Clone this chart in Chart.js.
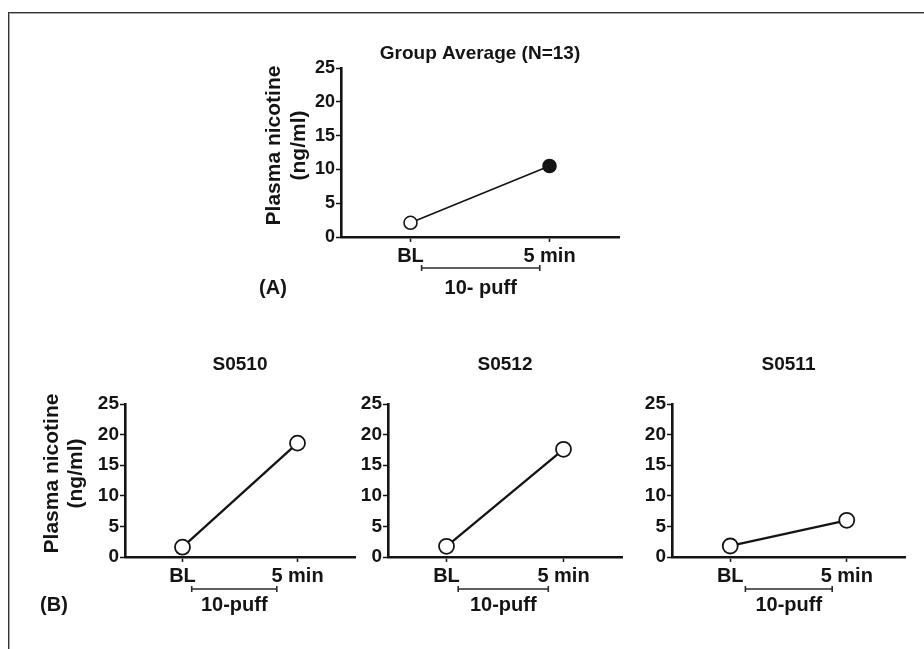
<!DOCTYPE html>
<html><head><meta charset="utf-8">
<script src="https://cdn.jsdelivr.net/npm/chart.js@4.4.1/dist/chart.umd.min.js"></script>
<style>
html,body{margin:0;padding:0;background:#fff;}
#wrap{position:relative;width:924px;height:649px;overflow:hidden;background:#fff;}
#wrap canvas{position:absolute;left:0;top:0;}
.b1{position:absolute;left:8px;top:12px;width:1000px;height:1000px;border-left:1px solid #333;border-top:1px solid #333;}
.b2{position:absolute;left:9px;top:13px;width:1000px;height:1000px;border-left:1px solid #a8a8a8;border-top:1px solid #a8a8a8;}
</style></head>
<body><div id="wrap"><div class="b1"></div><div class="b2"></div>
<canvas id="cA" width="924" height="649"></canvas>
<canvas id="cB1" width="924" height="649"></canvas>
<canvas id="cB2" width="924" height="649"></canvas>
<canvas id="cB3" width="924" height="649"></canvas>
</div>
<script>
// ---- data ----
const categories = ['BL', '5 min'];
const groupAverage = [2.1, 10.5];
const s0510 = [1.6, 18.6];
const s0512 = [1.75, 17.6];
const s0511 = [1.8, 6.0];
const yMin = 0, yMax = 25, yStep = 5;
const panelTitles = ['Group Average (N=13)', 'S0510', 'S0512', 'S0511'];
const yTitleLines = ['Plasma nicotine', '(ng/ml)'];
const bracketLabels = ['10- puff', '10-puff', '10-puff', '10-puff'];
const panelLetters = ['(A)', '(B)'];

const FONT = "'Liberation Sans', Arial, Helvetica, sans-serif";
const INK = '#141414';
const YW = 48, XH = 40, W = 924, H = 649;

const panels = [
  {id:'cA', values:groupAverage, title:panelTitles[0], area:{l:341,t:68,r:619,b:237}, titleDy:14.5,
   yTitle:yTitleLines, yTitleDx:[67,42], bracket:[0.08,0.93], bracketDy:31, bracketTextDy:20,
   bracketLabel:bracketLabels[0], letter:panelLetters[0], letterDx:68, letterDy:51,
   filled:[false,true], radius:6.5, pointBorder:1.6, lineW:1.6, yTickSize:18},
  {id:'cB1', values:s0510, title:panelTitles[1], area:{l:125,t:404,r:355,b:557}, titleDy:39.5,
   yTitle:yTitleLines, yTitleDx:[73,49], bracket:[0.08,0.82], bracketDy:32, bracketTextDy:16,
   bracketLabel:bracketLabels[1], letter:panelLetters[1], letterDx:71, letterDy:48,
   filled:[false,false], radius:7.5, pointBorder:1.8, lineW:2.3, yTickSize:19},
  {id:'cB2', values:s0512, title:panelTitles[2], area:{l:388,t:404,r:622,b:557}, titleDy:39.5,
   yTitle:null, bracket:[0.10,0.87], bracketDy:32, bracketTextDy:16,
   bracketLabel:bracketLabels[2], letter:null,
   filled:[false,false], radius:7.5, pointBorder:1.8, lineW:2.3, yTickSize:19},
  {id:'cB3', values:s0511, title:panelTitles[3], area:{l:672,t:404,r:905,b:557}, titleDy:39.5,
   yTitle:null, bracket:[0.13,0.875], bracketDy:32, bracketTextDy:16,
   bracketLabel:bracketLabels[3], letter:null,
   filled:[false,false], radius:7.5, pointBorder:1.8, lineW:2.3, yTickSize:19}
];

const annot = {
  id:'annot',
  afterDraw(chart, args, o){
    const {ctx, chartArea:a, scales:{x}} = chart;
    ctx.save();
    ctx.fillStyle = INK; ctx.strokeStyle = INK;
    ctx.textAlign = 'center'; ctx.textBaseline = 'middle';
    ctx.font = `bold 19px ${FONT}`;
    ctx.fillText(o.title, (a.left + a.right)/2, a.top - o.titleDy);
    if (o.yTitle){
      const cy = (a.top + a.bottom)/2 - 7;
      ctx.font = `bold 21px ${FONT}`;
      o.yTitle.forEach((t,i)=>{
        ctx.save(); ctx.translate(a.left - o.yTitleDx[i], cy); ctx.rotate(-Math.PI/2);
        ctx.fillText(t, 0, 0); ctx.restore();
      });
    }
    const x0 = x.getPixelForValue(0), x1 = x.getPixelForValue(1);
    const bx0 = x0 + (x1-x0)*o.bracket[0], bx1 = x0 + (x1-x0)*o.bracket[1];
    const by = a.bottom + o.bracketDy;
    ctx.lineWidth = 1.6;
    ctx.strokeStyle = '#2a2a2a';
    ctx.beginPath();
    ctx.moveTo(bx0, by); ctx.lineTo(bx1, by);
    ctx.moveTo(bx0, by-3); ctx.lineTo(bx0, by+3);
    ctx.moveTo(bx1, by-3); ctx.lineTo(bx1, by+3);
    ctx.stroke();
    ctx.font = `bold 20px ${FONT}`;
    ctx.fillText(o.bracketLabel, (bx0+bx1)/2, by + o.bracketTextDy);
    if (o.letter) ctx.fillText(o.letter, a.left - o.letterDx, a.bottom + o.letterDy);
    ctx.restore();
  }
};

panels.forEach(p=>{
  const gridOpts = {display:true, drawOnChartArea:false, drawTicks:true, tickLength:5, tickWidth:1.5, tickColor:INK};
  new Chart(document.getElementById(p.id), {
    type:'line',
    data:{labels:categories, datasets:[{
      data:p.values, borderColor:INK, borderWidth:p.lineW, tension:0,
      pointRadius:p.radius, pointBorderWidth:p.pointBorder, pointBorderColor:INK,
      pointBackgroundColor:p.values.map((v,i)=>p.filled[i]?INK:'#ffffff'), clip:false
    }]},
    options:{
      responsive:false, animation:false, events:[],
      layout:{padding:{left:p.area.l-YW, right:W-p.area.r, top:p.area.t, bottom:H-p.area.b-XH}},
      plugins:{legend:{display:false}, title:{display:false}, tooltip:{enabled:false},
        annot:{title:p.title, titleDy:p.titleDy, yTitle:p.yTitle, yTitleDx:p.yTitleDx,
          bracket:p.bracket, bracketDy:p.bracketDy, bracketTextDy:p.bracketTextDy,
          bracketLabel:p.bracketLabel, letter:p.letter, letterDx:p.letterDx, letterDy:p.letterDy}},
      scales:{
        x:{type:'category', offset:true, grid:gridOpts,
           border:{display:true, color:INK, width:2.6},
           ticks:{color:INK, font:{family:FONT, weight:'bold', size:20}, padding:2, maxRotation:0, autoSkip:false},
           afterFit(s){ s.height = XH; }},
        y:{min:yMin, max:yMax, grid:gridOpts,
           border:{display:true, color:INK, width:2.6},
           ticks:{stepSize:yStep, color:INK, font:{family:FONT, weight:'bold', size:p.yTickSize}, padding:1},
           afterFit(s){ s.width = YW; }}
      }
    },
    plugins:[annot]
  });
});
</script>
</body></html>
